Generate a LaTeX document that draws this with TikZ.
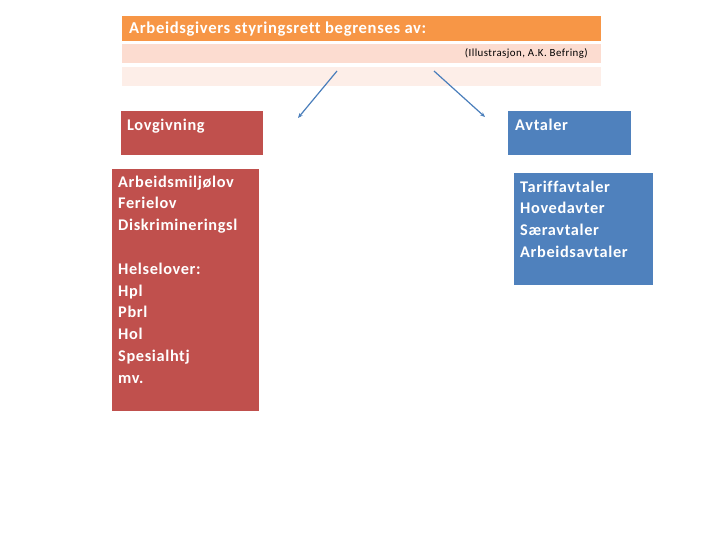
\documentclass[tikz,border=0pt]{standalone}
\usepackage{fontspec}
\setmainfont{Carlito}
\newfontfamily\slidefont[LetterSpace=4,Ligatures=NoCommon]{Carlito}
\usetikzlibrary{arrows.meta}
\definecolor{hdorange}{HTML}{F79646}
\definecolor{peachA}{HTML}{FCDCD0}
\definecolor{peachB}{HTML}{FDEEE8}
\definecolor{lovred}{HTML}{C0504D}
\definecolor{avtblue}{HTML}{4F81BD}
\definecolor{arrblue}{HTML}{4A7EBB}
\tikzset{
  band/.style={anchor=north west,inner sep=0pt,minimum width=479pt,minimum height=#1},
  block/.style={anchor=north west,inner sep=0pt,fill=#1},
  blocktext/.style={anchor=north west,inner sep=0pt,align=left,text=white,
    font=\slidefont\fontsize{16.3}{21.8}\selectfont\bfseries},
  pointer/.style={arrblue,line width=1.2pt,-{Stealth[length=5pt,width=4pt]}}
}
\begin{document}
\begin{tikzpicture}[x=1pt,y=-1pt]
                \useasboundingbox (0,0) rectangle (720,540);
                % header and the two light rows under it
                \node[band=25pt,fill=hdorange] (head) at (122,16) {};
                \node[blocktext,anchor=west,font=\slidefont\fontsize{16.6}{20}\selectfont\bfseries] (headtext) at (129,29) {Arbeidsgivers styringsrett begrenses av:};
                \node[band=19pt,fill=peachA] (rowa) at (122,44) {};
                \node[anchor=east,inner sep=0pt,font=\slidefont\fontsize{10.9}{12}\selectfont] (credit) at (588,53.5) {(Illustrasjon, A.K. Befring)};
                \node[band=19pt,fill=peachB] (rowb) at (122,67) {};
                % left column
                \node[block=lovred,minimum width=142pt,minimum height=44pt] (lov) at (121,111) {};
                \node[blocktext] (lovtext) at (127,118.5) {Lovgivning};
                \node[block=lovred,minimum width=147pt,minimum height=242pt] (lovlist) at (112,169) {};
                \node[blocktext] (lovlisttext) at (118,175.5) {Arbeidsmiljølov\\Ferielov\\Diskrimineringsl\\[21.8pt]Helselover:\\Hpl\\Pbrl\\Hol\\Spesialhtj\\mv.};
                % right column
                \node[block=avtblue,minimum width=123pt,minimum height=44pt] (avt) at (508,111) {};
                \node[blocktext] (avttext) at (515,118.5) {Avtaler};
                \node[block=avtblue,minimum width=139pt,minimum height=112pt] (avtlist) at (514,173) {};
                \node[blocktext] (avtlisttext) at (520,180.5) {Tariffavtaler\\Hovedavter\\Særavtaler\\Arbeidsavtaler};
                % arrows
                \coordinate (lstart) at (337,71);
                \coordinate (lend) at (298,118);
                \coordinate (rstart) at (434,71);
                \coordinate (rend) at (485,117);
                \draw[pointer] (lstart) -- (lend);
                \draw[pointer] (rstart) -- (rend);
\end{tikzpicture}
\end{document}
